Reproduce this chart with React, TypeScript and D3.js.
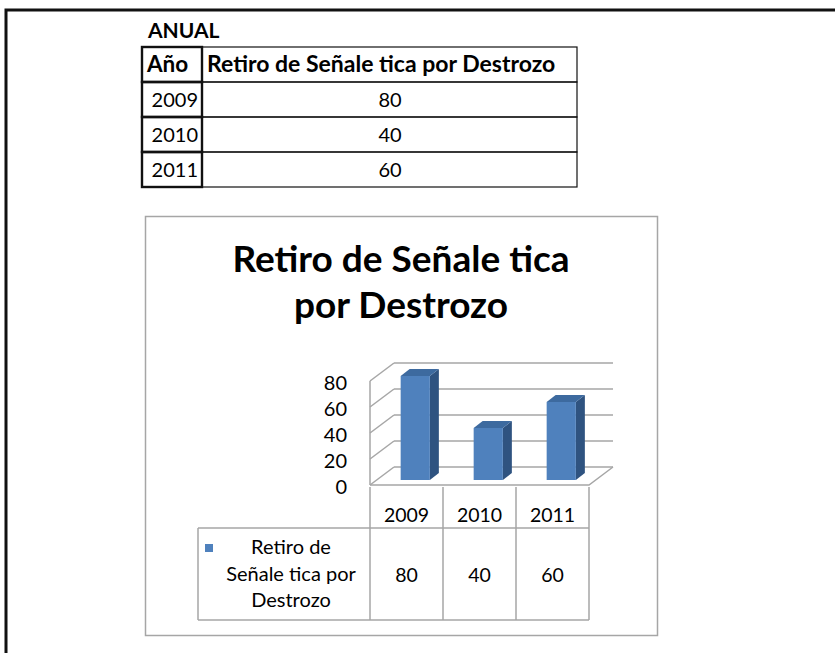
import React, {useEffect, useRef} from 'react'
import * as d3 from 'd3'

const years = ["2009", "2010", "2011"];
const values = [80, 40, 60];
const yTicks = [0, 20, 40, 60, 80];
const seriesName = "Retiro de Señale tica por Destrozo";
const legendLines = ["Retiro de", "Señale tica por", "Destrozo"];
const titleLines = ["Retiro de Señale tica", "por Destrozo"];
const tableTitle = "ANUAL";
const yearHeader = "Año";

const width = 835;
const height = 653;
const font = "Lato, 'Open Sans', sans-serif";

const blueFront = "#4f81bd";
const blueTop = "#3d6a9f";
const blueSide = "#2f5380";
const gridColor = "#a6a6a6";

export default function App() {
    const ref = useRef<SVGSVGElement>(null);

    useEffect(() => {
        const svg = d3.select(ref.current);
        svg.selectAll("*").remove();

        // outer sheet frame
        svg.append("path")
            .attr("d", `M6,${height} V10 H${width}`)
            .attr("fill", "none")
            .attr("stroke", "#111")
            .attr("stroke-width", 3);

        // --- top data table ---
        svg.append("text")
            .attr("x", 148).attr("y", 38)
            .attr("font-family", font).attr("font-size", 21).attr("font-weight", "bold")
            .text(tableTitle);

        const rowY = d3.scaleBand<number>().domain(d3.range(years.length + 1)).range([47, 187]);
        const colYear = {x0: 142, x1: 202};
        const colVal = {x0: 202, x1: 577};
        const top = svg.append("g").attr("font-family", font).attr("font-size", 20);

        d3.range(years.length + 1).forEach(i => {
            const y0 = rowY(i)!;
            const h = rowY.bandwidth();
            top.append("rect")
                .attr("x", colVal.x0).attr("y", y0).attr("width", colVal.x1 - colVal.x0).attr("height", h)
                .attr("fill", "none").attr("stroke", "#111").attr("stroke-width", 1.2);
            top.append("rect")
                .attr("x", colYear.x0).attr("y", y0).attr("width", colYear.x1 - colYear.x0).attr("height", h)
                .attr("fill", "none").attr("stroke", "#111").attr("stroke-width", 2.4);
            const cy = y0 + h / 2 + 7;
            if (i === 0) {
                top.append("text").attr("x", 147).attr("y", cy).attr("font-size", 22.5)
                    .attr("font-weight", "bold").text(yearHeader);
                top.append("text").attr("x", 207).attr("y", cy).attr("font-size", 23)
                    .attr("font-weight", "bold").text(seriesName);
            } else {
                top.append("text").attr("x", 198).attr("y", cy).attr("text-anchor", "end").text(years[i - 1]);
                top.append("text").attr("x", 390).attr("y", cy).attr("text-anchor", "middle").text(values[i - 1]);
            }
        });

        // --- chart box ---
        svg.append("rect")
            .attr("x", 145.5).attr("y", 216.5).attr("width", 512).attr("height", 419)
            .attr("fill", "#fff").attr("stroke", gridColor).attr("stroke-width", 1.5);

        svg.append("g")
            .attr("font-family", font).attr("font-size", 37).attr("font-weight", "bold")
            .attr("text-anchor", "middle")
            .selectAll("text").data(titleLines).join("text")
            .attr("x", 401).attr("y", (d, i) => 272 + i * 46)
            .text(d => d);

        // 3D plot geometry
        const x = d3.scaleBand().domain(years).range([370, 589]);
        const yBack = d3.scaleLinear().domain([0, 80]).range([467, 363]);
        const wall = {dx: 24, dy: 18};
        const bar = {dx: 9, dy: 7, base: 13};
        const backRight = x.range()[1] + wall.dx;

        const plot = svg.append("g").attr("fill", "none").attr("stroke", gridColor).attr("stroke-width", 1.5);

        // back wall gridlines
        plot.selectAll("line.grid").data(yTicks).join("line")
            .attr("class", "grid")
            .attr("x1", x.range()[0] + wall.dx).attr("x2", backRight)
            .attr("y1", d => yBack(d)).attr("y2", d => yBack(d));
        // side wall diagonals
        plot.selectAll("line.side").data(yTicks).join("line")
            .attr("class", "side")
            .attr("x1", x.range()[0]).attr("x2", x.range()[0] + wall.dx)
            .attr("y1", d => yBack(d) + wall.dy).attr("y2", d => yBack(d));
        // side wall front edge
        plot.append("line")
            .attr("x1", x.range()[0]).attr("x2", x.range()[0])
            .attr("y1", yBack(0) + wall.dy).attr("y2", yBack(80) + wall.dy);
        // floor
        plot.append("path")
            .attr("d", `M${x.range()[0]},${yBack(0) + wall.dy} H${x.range()[1]} L${backRight},${yBack(0)}`);

        // bars
        const bw = x.bandwidth() * 0.4;
        const baseY = yBack(0) + bar.base;
        const bars = svg.append("g");
        years.forEach((yr, i) => {
            const bx = x(yr)! + x.bandwidth() * 0.42;
            const h = yBack(0) - yBack(values[i]);
            const ty = baseY - h;
            bars.append("path")
                .attr("d", `M${bx + bw},${ty} L${bx + bw + bar.dx},${ty - bar.dy} V${baseY - bar.dy} L${bx + bw},${baseY} Z`)
                .attr("fill", blueSide);
            bars.append("path")
                .attr("d", `M${bx},${ty} L${bx + bar.dx},${ty - bar.dy} H${bx + bw + bar.dx} L${bx + bw},${ty} Z`)
                .attr("fill", blueTop);
            bars.append("rect")
                .attr("x", bx).attr("y", ty).attr("width", bw).attr("height", h)
                .attr("fill", blueFront);
        });

        // y tick labels
        svg.append("g")
            .attr("font-family", font).attr("font-size", 20).attr("text-anchor", "end")
            .selectAll("text").data(yTicks).join("text")
            .attr("x", 347).attr("y", d => yBack(d) + wall.dy + 9)
            .text(d => d);

        // --- data table under the plot ---
        const tbl = svg.append("g").attr("fill", "none").attr("stroke", gridColor).attr("stroke-width", 1.5);
        const tTop = yBack(0) + wall.dy + 2;
        const tMid = 528;
        const tBot = 620;
        const tLeft = 198;
        tbl.selectAll("line.col").data([...years.map(d => x(d)!), x.range()[1]]).join("line")
            .attr("class", "col")
            .attr("x1", d => d).attr("x2", d => d).attr("y1", tTop).attr("y2", tBot);
        tbl.append("line").attr("x1", tLeft).attr("x2", x.range()[1]).attr("y1", tMid).attr("y2", tMid);
        tbl.append("line").attr("x1", tLeft).attr("x2", x.range()[1]).attr("y1", tBot).attr("y2", tBot);
        tbl.append("line").attr("x1", tLeft).attr("x2", tLeft).attr("y1", tMid).attr("y2", tBot);

        const tt = svg.append("g").attr("font-family", font).attr("font-size", 19.5).attr("text-anchor", "middle");
        tt.selectAll("text.yr").data(years).join("text")
            .attr("class", "yr")
            .attr("x", d => x(d)! + x.bandwidth() / 2).attr("y", 522)
            .text(d => d);
        tt.selectAll("text.val").data(values).join("text")
            .attr("class", "val")
            .attr("x", (d, i) => x(years[i])! + x.bandwidth() / 2).attr("y", 582)
            .text(d => d);
        tt.selectAll("text.leg").data(legendLines).join("text")
            .attr("class", "leg")
            .attr("x", 291).attr("y", (d, i) => 554 + i * 26.5)
            .attr("font-size", 20)
            .text(d => d);
        svg.append("rect")
            .attr("x", 205).attr("y", 544).attr("width", 8).attr("height", 8)
            .attr("fill", blueFront);
    }, []);

    return (
        <svg ref={ref} width={width} height={height}
             style={{position: "absolute", left: 0, top: 0, background: "#fff"}}/>
    );
}
